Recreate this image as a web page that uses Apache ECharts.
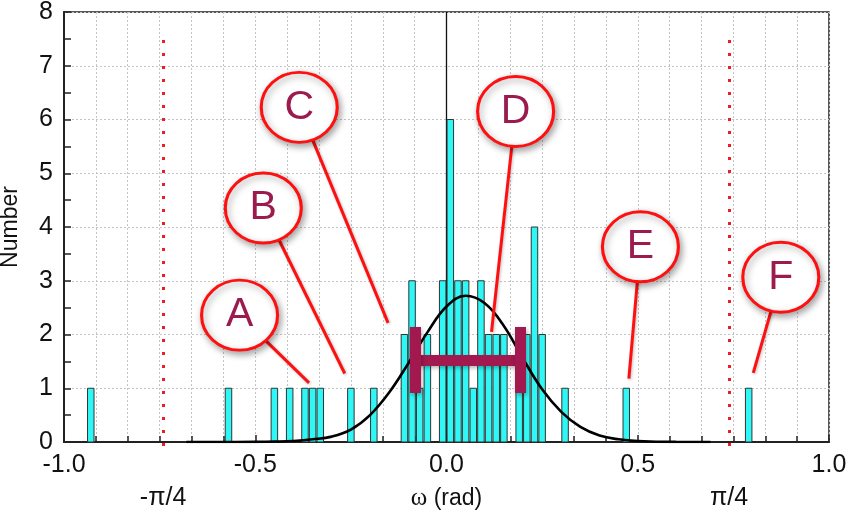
<!DOCTYPE html>
<html>
<head>
<meta charset="utf-8">
<script src="https://cdn.jsdelivr.net/npm/echarts@6/dist/echarts.min.js"></script>
<style>
  html, body { margin: 0; padding: 0; background: #fff; }
  #chart { width: 850px; height: 519px; }
</style>
</head>
<body>
<div id="chart"></div>
<script>
// histogram, bins 0.02 rad wide
var binCenters = [-0.93, -0.57, -0.45, -0.41, -0.37, -0.35, -0.33, -0.25, -0.19,
  -0.11, -0.09, -0.07, -0.05, -0.01, 0.01, 0.03, 0.05, 0.07, 0.09, 0.11, 0.13, 0.15,
  0.19, 0.21, 0.23, 0.25, 0.31, 0.47, 0.79];
var counts = [1, 1, 1, 1, 1, 1, 1, 1, 1,
  2, 3, 1, 2, 3, 6, 3, 3, 1, 3, 2, 2, 2,
  2, 2, 4, 2, 1, 1, 1];

// gaussian fit
var fitX = [-0.68, -0.6, -0.5, -0.45, -0.4, -0.35, -0.3, -0.25, -0.2, -0.15, -0.1, -0.05,
  0, 0.05, 0.1, 0.15, 0.2, 0.25, 0.3, 0.35, 0.4, 0.45, 0.5, 0.6, 0.69];
var fitY = [0, 0, 0.003, 0.008, 0.02, 0.05, 0.1, 0.23, 0.5, 0.92, 1.46, 2.04,
  2.52, 2.72, 2.58, 2.16, 1.55, 0.98, 0.56, 0.28, 0.12, 0.05, 0.02, 0.002, 0];

// error bar (mean +/- width)
var errLeft = -0.0824, errRight = 0.193, errY = 1.52;
var capLow = 0.91, capHigh = 2.14;

// +/- pi/4 markers
var quarterX = [-0.741, 0.739];
var quarterText = ['-\u03c0/4', '\u03c0/4'];
var quarterTop = 7.48, quarterBottom = -0.21;

// callouts
var calloutNames = ['A', 'B', 'C', 'D', 'E', 'F'];
var calloutCenters = [[-0.541, 2.36], [-0.479, 4.354], [-0.385, 6.226],
  [0.1807, 6.148], [0.507, 3.633], [0.874, 3.065]];
var calloutTips = [[-0.3594, 1.099], [-0.266, 1.274], [-0.1528, 2.217],
  [0.1177, 2.049], [0.4768, 1.181], [0.802, 1.286]];

var xTicks = [-1.0, -0.5, 0.0, 0.5, 1.0];
var yTicks = [0, 1, 2, 3, 4, 5, 6, 7, 8];

var HALF_BAR = 0.0085; // drawn half width of a bin (rad)

var chart = echarts.init(document.getElementById('chart'));

var histData = binCenters.map(function (x, i) { return [x, counts[i]]; });
var fitData = fitX.map(function (x, i) { return [x, fitY[i]]; });

var pointerLines = calloutCenters.map(function (c, i) {
  return { coords: [c, calloutTips[i]] };
});
var bubbleData = calloutCenters.map(function (c, i) {
  return { name: calloutNames[i], value: c };
});
var quarterLines = quarterX.map(function (x) {
  return { coords: [[x, quarterTop], [x, quarterBottom]] };
});
var quarterLabels = quarterX.map(function (x, i) {
  return { name: quarterText[i], value: [x, -1.05] };
});

function renderBin (params, api) {
  var x = api.value(0);
  var n = api.value(1);
  var p0 = api.coord([x - HALF_BAR, n]);
  var p1 = api.coord([x + HALF_BAR, 0]);
  return {
    type: 'rect',
    shape: { x: p0[0], y: p0[1], width: p1[0] - p0[0], height: p1[1] - p0[1] },
    style: { fill: '#2ef7f5', stroke: '#333', lineWidth: 1 }
  };
}

var gridLine = { show: true, lineStyle: { color: '#c4c4c4', type: [2, 2], width: 1 } };

var option = {
  animation: false,
  backgroundColor: '#fff',
  grid: {
    left: 64, right: 21, top: 12, bottom: 77,
    outerBoundsMode: 'none',
    containLabel: false,
    show: true, borderColor: '#222', borderWidth: 1.5
  },
  xAxis: {
    type: 'value',
    min: xTicks[0],
    max: xTicks[xTicks.length - 1],
    interval: 0.5,
    name: '{w|\u03c9} (rad)',
    nameLocation: 'middle',
    nameGap: 44,
    nameTextStyle: {
      fontSize: 23, color: '#111', fontFamily: 'Liberation Sans',
      rich: { w: { fontSize: 25, fontFamily: 'Liberation Serif', color: '#111' } }
    },
    axisLine: { onZero: false, lineStyle: { color: '#222', width: 2 } },
    axisTick: { inside: true, length: 7, lineStyle: { color: '#222', width: 1.5 } },
    minorTick: { show: true, splitNumber: 6, length: 6, lineStyle: { color: '#222', width: 1.5 } },
    axisLabel: {
      margin: 11, fontSize: 25, color: '#111', fontFamily: 'Liberation Sans',
      formatter: function (v) { return v.toFixed(1); }
    },
    splitLine: gridLine,
    minorSplitLine: gridLine
  },
  yAxis: {
    type: 'value',
    min: yTicks[0],
    max: yTicks[yTicks.length - 1],
    interval: 1,
    name: 'Number',
    nameLocation: 'middle',
    nameGap: 42,
    nameTextStyle: { fontSize: 23, color: '#111', fontFamily: 'Liberation Sans' },
    axisLine: { onZero: false, lineStyle: { color: '#222', width: 2 } },
    axisTick: { inside: true, length: 7, lineStyle: { color: '#222', width: 1.5 } },
    minorTick: { show: true, splitNumber: 2, length: 7, lineStyle: { color: '#222', width: 1.5 } },
    axisLabel: { margin: 11, fontSize: 25, color: '#111', fontFamily: 'Liberation Sans' },
    splitLine: gridLine
  },
  series: [
    {
      // zero line
      type: 'lines',
      coordinateSystem: 'cartesian2d',
      z: 1,
      lineStyle: { color: '#111', width: 1.3, opacity: 1 },
      data: [{ coords: [[0, yTicks[0]], [0, yTicks[yTicks.length - 1]]] }]
    },
    {
      type: 'custom',
      z: 2,
      renderItem: renderBin,
      encode: { x: 0, y: 1 },
      data: histData
    },
    {
      type: 'line',
      z: 3,
      smooth: 0.4,
      showSymbol: false,
      symbol: 'none',
      lineStyle: { color: '#000', width: 2.6 },
      data: fitData
    },
    {
      type: 'lines',
      coordinateSystem: 'cartesian2d',
      z: 3,
      clip: false,
      lineStyle: { color: '#ee1c24', width: 3, type: [3, 10], opacity: 1 },
      data: quarterLines
    },
    {
      type: 'scatter',
      z: 3,
      clip: false,
      symbolSize: 0,
      itemStyle: { opacity: 1 },
      label: {
        show: true, position: 'inside', formatter: '{b}',
        fontSize: 25, color: '#111', fontFamily: 'Liberation Sans'
      },
      data: quarterLabels
    },
    {
      // error bar
      type: 'lines',
      coordinateSystem: 'cartesian2d',
      z: 4,
      lineStyle: {
        color: '#a2194f', width: 11, opacity: 1, cap: 'butt',
        shadowBlur: 4, shadowColor: 'rgba(0,0,0,0.3)', shadowOffsetX: 1, shadowOffsetY: 2
      },
      data: [
        { coords: [[errLeft, errY], [errRight, errY]] },
        { coords: [[errLeft, capLow], [errLeft, capHigh]] },
        { coords: [[errRight, capLow], [errRight, capHigh]] }
      ]
    },
    {
      type: 'lines',
      coordinateSystem: 'cartesian2d',
      z: 5,
      lineStyle: {
        color: '#ff1010', width: 3, opacity: 1,
        shadowBlur: 3, shadowColor: 'rgba(0,0,0,0.25)', shadowOffsetX: 1, shadowOffsetY: 1
      },
      data: pointerLines
    },
    {
      type: 'scatter',
      z: 6,
      symbol: 'circle',
      symbolSize: [76, 70],
      itemStyle: {
        color: '#fff', borderColor: '#ff1010', borderWidth: 3, opacity: 1,
        shadowBlur: 7, shadowColor: 'rgba(0,0,0,0.35)', shadowOffsetX: 2, shadowOffsetY: 3
      },
      label: {
        show: true, position: 'inside', formatter: '{b}',
        fontSize: 41, color: '#9b1b4f', fontFamily: 'Liberation Sans'
      },
      data: bubbleData
    }
  ]
};

chart.setOption(option);
</script>
</body>
</html>
